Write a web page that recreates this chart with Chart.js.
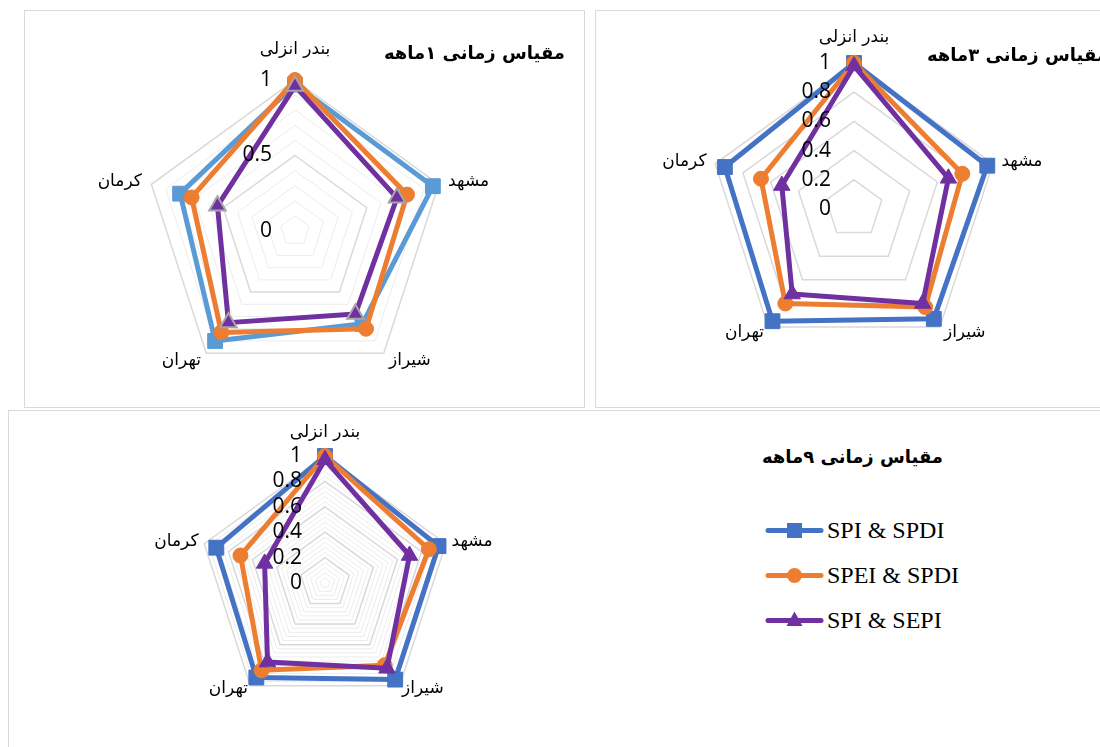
<!DOCTYPE html>
<html>
<head>
<meta charset="utf-8">
<script src="https://cdn.jsdelivr.net/npm/chart.js@4.4.1/dist/chart.umd.min.js"></script>
<style>
  html, body { margin: 0; padding: 0; background: #fff; }
  body { position: relative; width: 1100px; height: 747px; overflow: hidden; }
  .frame { position: absolute; box-sizing: border-box; border: 1px solid #d9d9d9; }
  canvas { position: absolute; }
  .title { position: absolute; font: bold 18px "DejaVu Sans"; direction: rtl; white-space: nowrap; color: #000; line-height: 24px; }
  #legend { position: absolute; left: 765px; top: 508px; font: 24px "Liberation Serif"; color: #000; }
  .item { display: flex; align-items: center; height: 45px; }
  .item svg { margin-right: 3px; }
</style>
</head>
<body>
<div class="frame" style="left:24px;top:10px;width:561px;height:398px"></div>
<div class="frame" style="left:595px;top:10px;width:520px;height:398px"></div>
<div class="frame" style="left:8px;top:410px;width:1110px;height:350px"></div>

<canvas id="c1" width="561" height="398" style="left:24px;top:10px"></canvas>
<canvas id="c3" width="505" height="398" style="left:595px;top:10px"></canvas>
<canvas id="c9" width="552" height="337" style="left:8px;top:410px"></canvas>

<div class="title" style="right:535px;top:41px">مقیاس زمانی ۱ماهه</div>
<div class="title" style="right:-8px;top:43px">مقیاس زمانی ۳ماهه</div>
<div class="title" style="right:157px;top:445px">مقیاس زمانی ۹ماهه</div>
<div id="legend"></div>

<script>
const labels = ['بندر انزلی', 'مشهد', 'شیراز', 'تهران', 'کرمان'];
const seriesNames = ['SPI & SPDI', 'SPEI & SPDI', 'SPI & SEPI'];

// 1 month
const spiSpdi1 = [0.97, 0.96, 0.76, 0.90, 0.80];
const speiSpdi1 = [1.00, 0.78, 0.80, 0.83, 0.72];
const spiSepi1 = [0.96, 0.71, 0.68, 0.75, 0.54];
// 3 months
const spiSpdi3 = [1.00, 0.96, 0.93, 0.95, 0.93];
const speiSpdi3 = [1.00, 0.78, 0.83, 0.80, 0.67];
const spiSepi3 = [0.98, 0.68, 0.80, 0.72, 0.52];
// 9 months
const spiSpdi9 = [1.00, 0.94, 0.94, 0.92, 0.90];
const speiSpdi9 = [1.00, 0.86, 0.80, 0.85, 0.70];
const spiSepi9 = [0.97, 0.70, 0.83, 0.77, 0.50];

const ticks1 = [0, 0.5, 1];
const ticks3 = [0, 0.2, 0.4, 0.6, 0.8, 1];
const ticks9 = [0, 0.2, 0.4, 0.6, 0.8, 1];

const ORANGE = '#ed7d31';
const PURPLE = '#7030a0';

// tick labels left of the vertical axis, category labels outside the vertices
const radarText = {
  id: 'radarText',
  afterDraw(chart, args, opts) {
    const scale = chart.scales.r;
    const ctx = chart.ctx;
    ctx.save();
    ctx.fillStyle = '#000';
    ctx.textBaseline = 'middle';
    ctx.font = '21px "Open Sans"';
    ctx.textAlign = 'right';
    opts.ticks.forEach((v) => {
      ctx.fillText(String(v), scale.xCenter - 23, scale.yCenter - scale.getDistanceFromCenterForValue(v));
    });
    ctx.font = '17px "DejaVu Sans"';
    chart.data.labels.forEach((label, i) => {
      const a = scale.getIndexAngle(i);
      const sin = Math.sin(a), cos = Math.cos(a);
      const pad = Math.abs(sin) < 0.1 ? opts.pad.top : (cos > 0 ? opts.pad.side : opts.pad.bottom);
      const p = scale.getPointPosition(i, scale.drawingArea + pad);
      ctx.textAlign = Math.abs(sin) < 0.1 ? 'center' : (sin > 0 ? 'left' : 'right');
      ctx.fillText(label, p.x, p.y);
    });
    ctx.restore();
  },
};

function isMajor(v, major) {
  const q = v / major;
  return Math.abs(q - Math.round(q)) < 1e-6;
}

function buildRadar(id, series, blue, tickVals, step, major, padding, pad, triBorder) {
  const common = { fill: false, borderWidth: 5, pointBorderWidth: 1 };
  return new Chart(document.getElementById(id), {
    type: 'radar',
    data: {
      labels,
      datasets: [
        { ...common, label: seriesNames[0], data: series[0], borderColor: blue, backgroundColor: blue, pointBackgroundColor: blue, pointBorderColor: blue, pointStyle: 'rect', pointRadius: 10.5, order: 3 },
        { ...common, label: seriesNames[1], data: series[1], borderColor: ORANGE, backgroundColor: ORANGE, pointBackgroundColor: ORANGE, pointBorderColor: ORANGE, pointStyle: 'circle', pointRadius: 7.5, order: 2 },
        { ...common, label: seriesNames[2], data: series[2], borderColor: PURPLE, backgroundColor: PURPLE, pointBackgroundColor: PURPLE, pointBorderColor: triBorder || PURPLE, pointBorderWidth: triBorder ? 2 : 1, pointStyle: 'triangle', pointRadius: 9.5, order: 1 },
      ],
    },
    options: {
      responsive: false,
      animation: false,
      events: [],
      layout: { padding },
      elements: { line: { tension: 0, borderJoinStyle: 'round' } },
      plugins: { legend: { display: false }, tooltip: { enabled: false }, radarText: { ticks: tickVals, pad } },
      scales: {
        r: {
          min: 0,
          max: 1,
          ticks: { display: false, stepSize: step },
          pointLabels: { display: false },
          angleLines: { display: false },
          grid: {
            color: (c) => (isMajor(c.tick.value, major) ? '#d9d9d9' : '#ececec'),
            lineWidth: (c) => (isMajor(c.tick.value, major) ? 1.5 : 1),
          },
        },
      },
    },
    plugins: [radarText],
  });
}

buildRadar('c1', [spiSpdi1, speiSpdi1, spiSepi1], '#5b9bd5', ticks1, 0.1, 0.5,
  { left: 120, top: 70, right: 139, bottom: 26 }, { top: 30, side: 10, bottom: 9 }, '#a5a5a5');
buildRadar('c3', [spiSpdi3, speiSpdi3, spiSepi3], '#4472c4', ticks3, 0.2, 0.2,
  { left: 113, top: 53, right: 100, bottom: 53 }, { top: 25, side: 9, bottom: 7 });
buildRadar('c9', [spiSpdi9, speiSpdi9, spiSepi9], '#4472c4', ticks9, 0.04, 0.2,
  { left: 190, top: 46, right: 108, bottom: 37 }, { top: 23, side: 6, bottom: 4 });

// legend (line + marker, as in the chart)
const legendColors = ['#4472c4', ORANGE, PURPLE];
const legendMarks = [
  (c) => `<rect x="22" y="4" width="15" height="15" fill="${c}"/>`,
  (c) => `<circle cx="29.5" cy="11.5" r="7.5" fill="${c}"/>`,
  (c) => `<polygon points="29.5,2.5 37.5,17 21.5,17" fill="${c}"/>`,
];
document.getElementById('legend').innerHTML = seriesNames.map((name, i) => `
  <div class="item"><svg width="59" height="23"><line x1="3" y1="11.5" x2="56" y2="11.5" stroke="${legendColors[i]}" stroke-width="5" stroke-linecap="round"/>${legendMarks[i](legendColors[i])}</svg><span>${name}</span></div>`).join('');
</script>
</body>
</html>
